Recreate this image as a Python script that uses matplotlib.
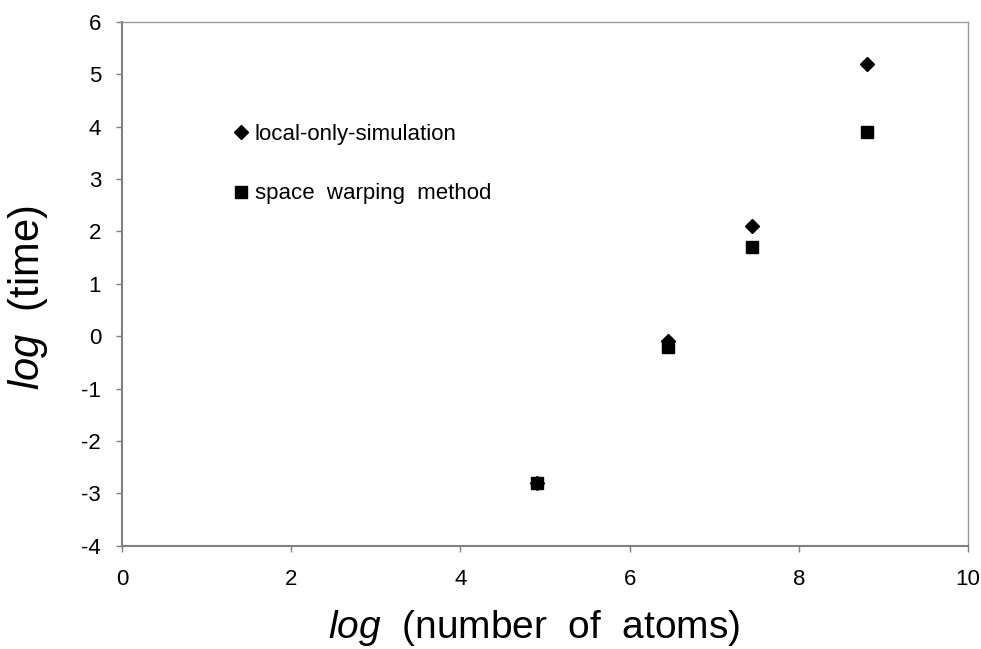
import matplotlib
matplotlib.use("Agg")
import matplotlib.pyplot as plt

# values
log_atoms = [4.9, 6.45, 7.45, 8.8]
local_only = [-2.8, -0.1, 2.1, 5.2]
space_warp = [-2.8, -0.2, 1.7, 3.9]

x_ticks = [0, 2, 4, 6, 8, 10]
y_ticks = [-4, -3, -2, -1, 0, 1, 2, 3, 4, 5, 6]

plt.rcParams['font.family'] = ['Liberation Sans', 'DejaVu Sans']
plt.rcParams['mathtext.fontset'] = 'custom'
plt.rcParams['mathtext.rm'] = 'Liberation Sans'
plt.rcParams['mathtext.it'] = 'Liberation Sans:italic'
plt.rcParams['axes.unicode_minus'] = False

fig = plt.figure(figsize=(9.81, 6.49), dpi=100)
ax = fig.add_axes([0.1244, 0.1592, 0.8624, 0.8069])

ax.plot(log_atoms, local_only, linestyle='none', marker='D', ms=7.5,
        color='black', label='local-only-simulation')
ax.plot(log_atoms, space_warp, linestyle='none', marker='s', ms=8.5,
        color='black', label='space  warping  method')

ax.set_xlim(0, 10)
ax.set_ylim(-4, 6)
ax.set_xticks(x_ticks)
ax.set_yticks(y_ticks)

for side in ['left', 'bottom']:
    ax.spines[side].set_color('#7f7f7f')
    ax.spines[side].set_linewidth(1.5)
for side in ['top', 'right']:
    ax.spines[side].set_color('#9a9a9a')
    ax.spines[side].set_linewidth(1.0)

ax.tick_params(axis='both', direction='out', length=4, width=1,
               color='#7f7f7f', labelsize=16)
ax.tick_params(axis='x', pad=13)
ax.tick_params(axis='y', pad=11)

ax.set_xlabel(r'$\mathit{log}$  (number  of  atoms)', fontsize=28)
ax.set_ylabel(r'$\mathit{log}$  (time)', fontsize=30)
ax.xaxis.set_label_coords(0.487, -0.119)
ax.yaxis.set_label_coords(-0.085, 0.473)

ax.legend(loc='upper left', bbox_to_anchor=(0.12, 0.826), frameon=False,
          fontsize=16, handlelength=0.6, handletextpad=0.3,
          labelspacing=1.72, borderpad=0)

fig.savefig('out.png', dpi=100)
